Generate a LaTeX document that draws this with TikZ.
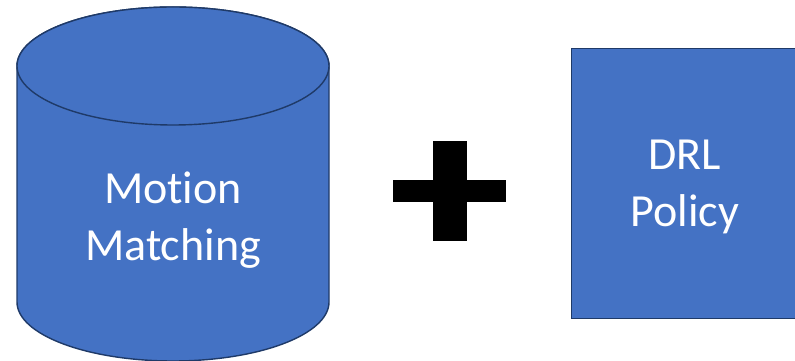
\documentclass[tikz,border=0pt]{standalone}
\usepackage{fontspec}
\setmainfont[Ligatures=NoCommon]{Carlito}
\definecolor{shapefill}{HTML}{4472C4}
\definecolor{shapeline}{HTML}{1F3A68}
\tikzset{
  shapebody/.style={fill=shapefill, draw=shapeline, line width=1.4pt},
  bigtext/.style={text=white, align=center, font=\fontsize{46}{57}\selectfont},
  plusbar/.style={fill=black, draw=none}
}
\begin{document}
\begin{tikzpicture}[x=1pt,y=1pt]
  \useasboundingbox (0,0) rectangle (795,361);
  \clip (0,0) rectangle (795,361);
  % database cylinder
  \path[shapebody] (17,295) -- (17,59)
    arc[start angle=180, end angle=360, x radius=156pt, y radius=59pt]
    -- (329,295)
    arc[start angle=0, end angle=180, x radius=156pt, y radius=59pt] -- cycle;
  \draw[shapebody] (173,295) ellipse [x radius=156pt, y radius=59pt];
  \node[bigtext] (mm) at (173,141) {Mot\kern0pt ion\\Matching};
  % plus sign
  \path[plusbar] (433,120) rectangle (467,220);
  \path[plusbar] (393,159) rectangle (506,181);
  % policy box
  \node[shapebody, minimum width=228pt, minimum height=270pt, anchor=south west, inner sep=0pt] (box) at (571,42) {};
  \node[bigtext] (drl) at (685,174) {DRL\\Policy};
\end{tikzpicture}
\end{document}
